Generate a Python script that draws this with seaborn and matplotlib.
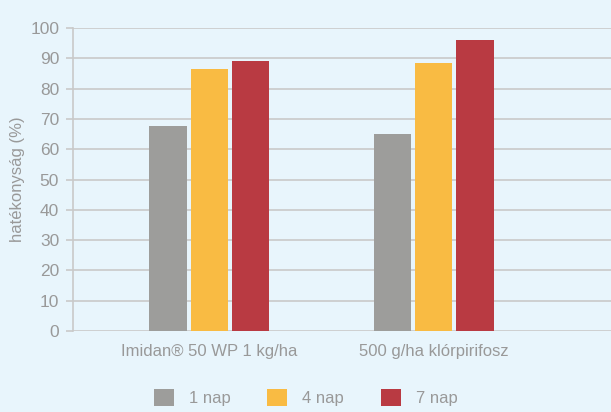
import pandas as pd
import matplotlib.pyplot as plt
import seaborn as sns
from matplotlib.patches import Patch

# data
treatments = ["Imidan® 50 WP 1 kg/ha", "500 g/ha klórpirifosz"]
days = ["1 nap", "4 nap", "7 nap"]
nap1 = [67.7, 65.0]
nap4 = [86.5, 88.4]
nap7 = [89.1, 96.0]
colors = ["#9d9d9b", "#f9bb43", "#b93a42"]

df = pd.DataFrame({
    "kezeles": treatments * 3,
    "nap": [days[0]] * 2 + [days[1]] * 2 + [days[2]] * 2,
    "ertek": nap1 + nap4 + nap7,
})

bg = "#e8f5fc"
txt = "#999999"
grid = "#c9c9c9"

sns.set_theme(style="white")
plt.rcParams["font.family"] = ["Liberation Sans", "DejaVu Sans"]

fig = plt.figure(figsize=(6.11, 4.12), dpi=100, facecolor=bg)
ax = fig.add_axes([0.1195, 0.1966, 0.8805, 0.735])
ax.set_facecolor(bg)

sns.barplot(data=df, x="kezeles", y="ertek", hue="nap", palette=colors,
            width=0.55, gap=0.09, saturation=1, linewidth=0, ax=ax, legend=False)

ax.set_xlim(-0.607, 1.79)
ax.set_ylim(0, 100)
ax.set_yticks(range(0, 101, 10))
ax.yaxis.grid(True, color=grid, linewidth=1.2, zorder=0)
ax.set_axisbelow(True)
for s in ["top", "right", "bottom"]:
    ax.spines[s].set_visible(False)
ax.spines["left"].set_color(grid)
ax.spines["left"].set_linewidth(1.2)

ax.tick_params(axis="y", length=5, width=1.2, color=grid, labelcolor=txt,
               labelsize=12.5, pad=5, left=True)
ax.tick_params(axis="x", length=0, labelcolor=txt, labelsize=12, pad=9)
ax.set_xlabel("")
ax.set_ylabel("hatékonyság (%)", color=txt, fontsize=12, labelpad=4)

handles = [Patch(facecolor=c, edgecolor="none", label=d) for c, d in zip(colors, days)]
fig.legend(handles=handles, loc="lower center", bbox_to_anchor=(0.5, -0.022),
           ncol=3, frameon=False, fontsize=12, labelcolor=txt,
           handlelength=1.2, handleheight=1.2, columnspacing=2.2, handletextpad=0.9)

fig.savefig("out.png", dpi=100, facecolor=bg)
